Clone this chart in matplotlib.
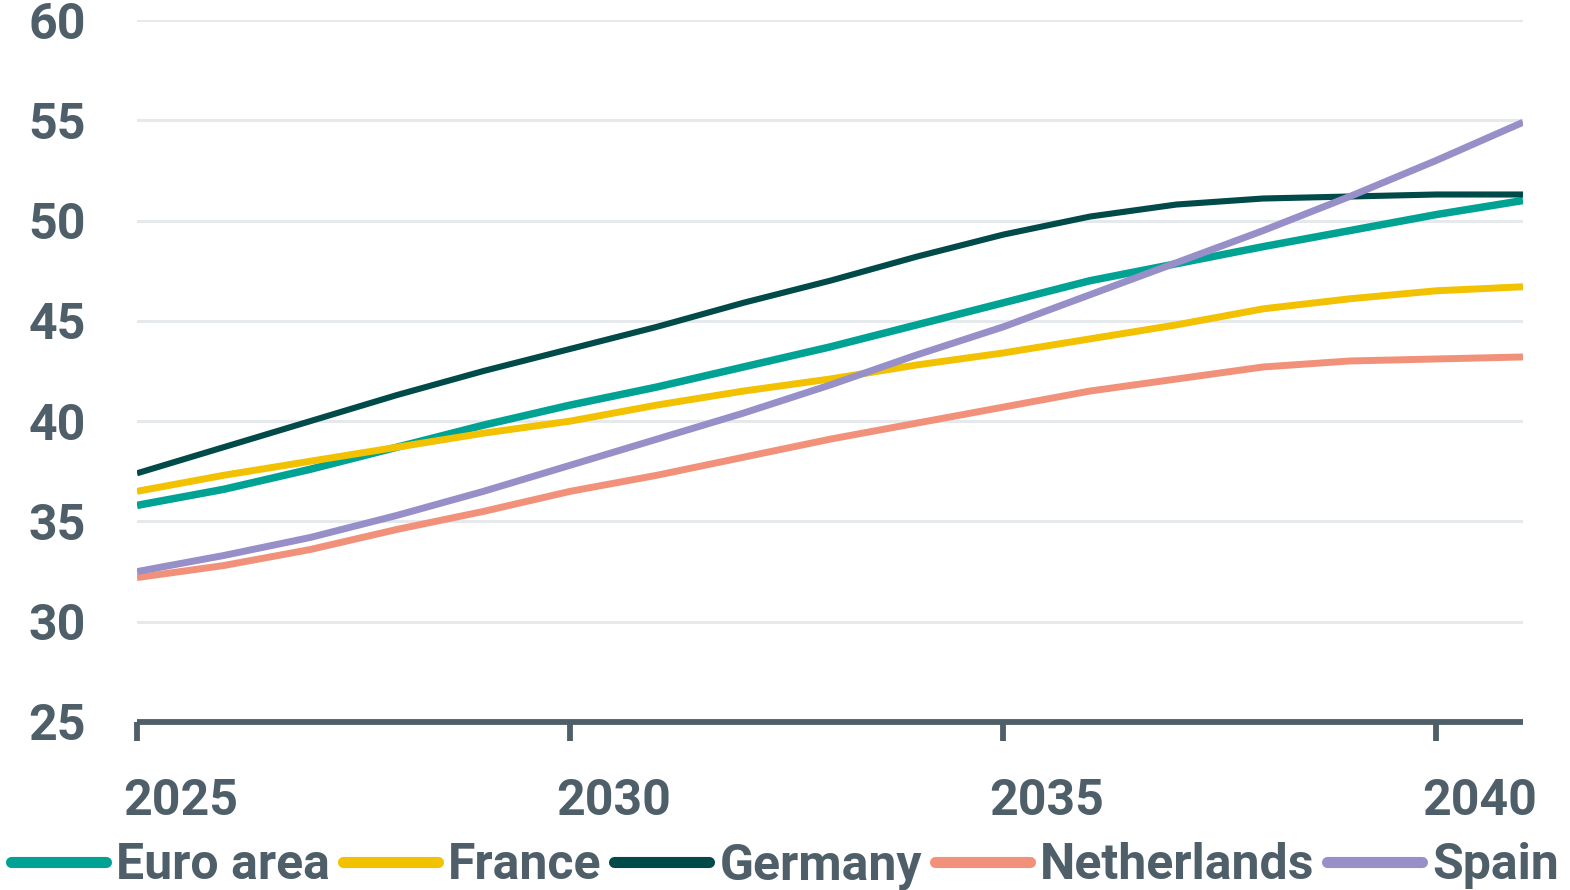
import matplotlib
matplotlib.use("Agg")
import matplotlib.pyplot as plt
from matplotlib.ticker import FixedLocator, NullFormatter

years = list(range(2025, 2042))
euro_area = [35.8, 36.6, 37.6, 38.7, 39.8, 40.8, 41.7, 42.7, 43.7, 44.8, 45.9, 47.0, 47.85, 48.7, 49.5, 50.3, 51.0]
france = [36.5, 37.3, 38.0, 38.7, 39.4, 40.0, 40.8, 41.5, 42.1, 42.8, 43.4, 44.1, 44.8, 45.6, 46.1, 46.5, 46.7]
germany = [37.4, 38.7, 40.0, 41.3, 42.5, 43.6, 44.7, 45.9, 47.0, 48.2, 49.3, 50.2, 50.8, 51.1, 51.2, 51.3, 51.3]
netherlands = [32.2, 32.8, 33.6, 34.6, 35.5, 36.5, 37.3, 38.2, 39.1, 39.9, 40.7, 41.5, 42.1, 42.7, 43.0, 43.1, 43.2]
spain = [32.5, 33.3, 34.2, 35.3, 36.5, 37.8, 39.1, 40.4, 41.8, 43.3, 44.7, 46.3, 47.9, 49.5, 51.2, 53.0, 54.9]

series_names = ["Euro area", "France", "Germany", "Netherlands", "Spain"]
series_values = [euro_area, france, germany, netherlands, spain]
colors = ["#00a393", "#f2c100", "#004b49", "#f2917a", "#978fc8"]
widths = [5.4, 5.0, 4.4, 5.0, 5.0]

xtick_years = [2025, 2030, 2035, 2040]
xtick_labels = ["2025", "2030", "2035", "2040"]
yticks = [25, 30, 35, 40, 45, 50, 55, 60]

text_color = "#4f5f69"
grid_color = "#e6e9eb"

plt.rcParams['font.family'] = ['Roboto', 'DejaVu Sans']
plt.rcParams['font.weight'] = 'bold'

fig = plt.figure(figsize=(15.7, 8.9), dpi=100)
ax = fig.add_axes([137/1570, 1 - 722/890, (1523 - 137)/1570, (722 - 20)/890])

for name, vals, c, lw in zip(series_names, series_values, colors, widths):
    ax.plot(years, vals, color=c, lw=lw, label=name, solid_capstyle='butt', solid_joinstyle='round', zorder=3)

ax.set_xlim(2025, 2041)
ax.set_ylim(25, 60)

ax.set_yticks(yticks)
ax.set_yticklabels([str(v) for v in yticks])
for v in yticks[1:]:
    ax.axhline(v, color=grid_color, lw=2.2, zorder=1)

for s in ["top", "right", "left"]:
    ax.spines[s].set_visible(False)
ax.spines["bottom"].set_color(text_color)
ax.spines["bottom"].set_linewidth(4.2)
ax.spines["bottom"].set_capstyle('butt')

ax.tick_params(axis='y', length=0, pad=37, labelsize=36, labelcolor=text_color)

ax.xaxis.set_major_locator(FixedLocator(xtick_years))
ax.xaxis.set_major_formatter(NullFormatter())
ax.tick_params(axis='x', which='major', length=14, width=4.2, color=text_color, direction='out')
ax.xaxis.set_minor_locator(FixedLocator([y + 0.5 for y in xtick_years]))
ax.set_xticklabels(xtick_labels, minor=True)
ax.tick_params(axis='x', which='minor', length=0, pad=40, labelsize=36, labelcolor=text_color)

for lab in ax.get_yticklabels() + ax.get_xticklabels(minor=True):
    lab.set_fontweight('bold')

leg = fig.legend(loc='center', bbox_to_anchor=(0.5, 1 - 866/890), ncol=5, frameon=False,
                 fontsize=36, handlelength=1.9, handletextpad=0.2, columnspacing=0.26,
                 borderpad=0, borderaxespad=0)
for t in leg.get_texts():
    t.set_color(text_color)
    t.set_fontweight('bold')
for h in leg.legend_handles:
    h.set_linewidth(8)
    h.set_solid_capstyle('round')

fig.savefig("out.png", dpi=100, facecolor="white")
